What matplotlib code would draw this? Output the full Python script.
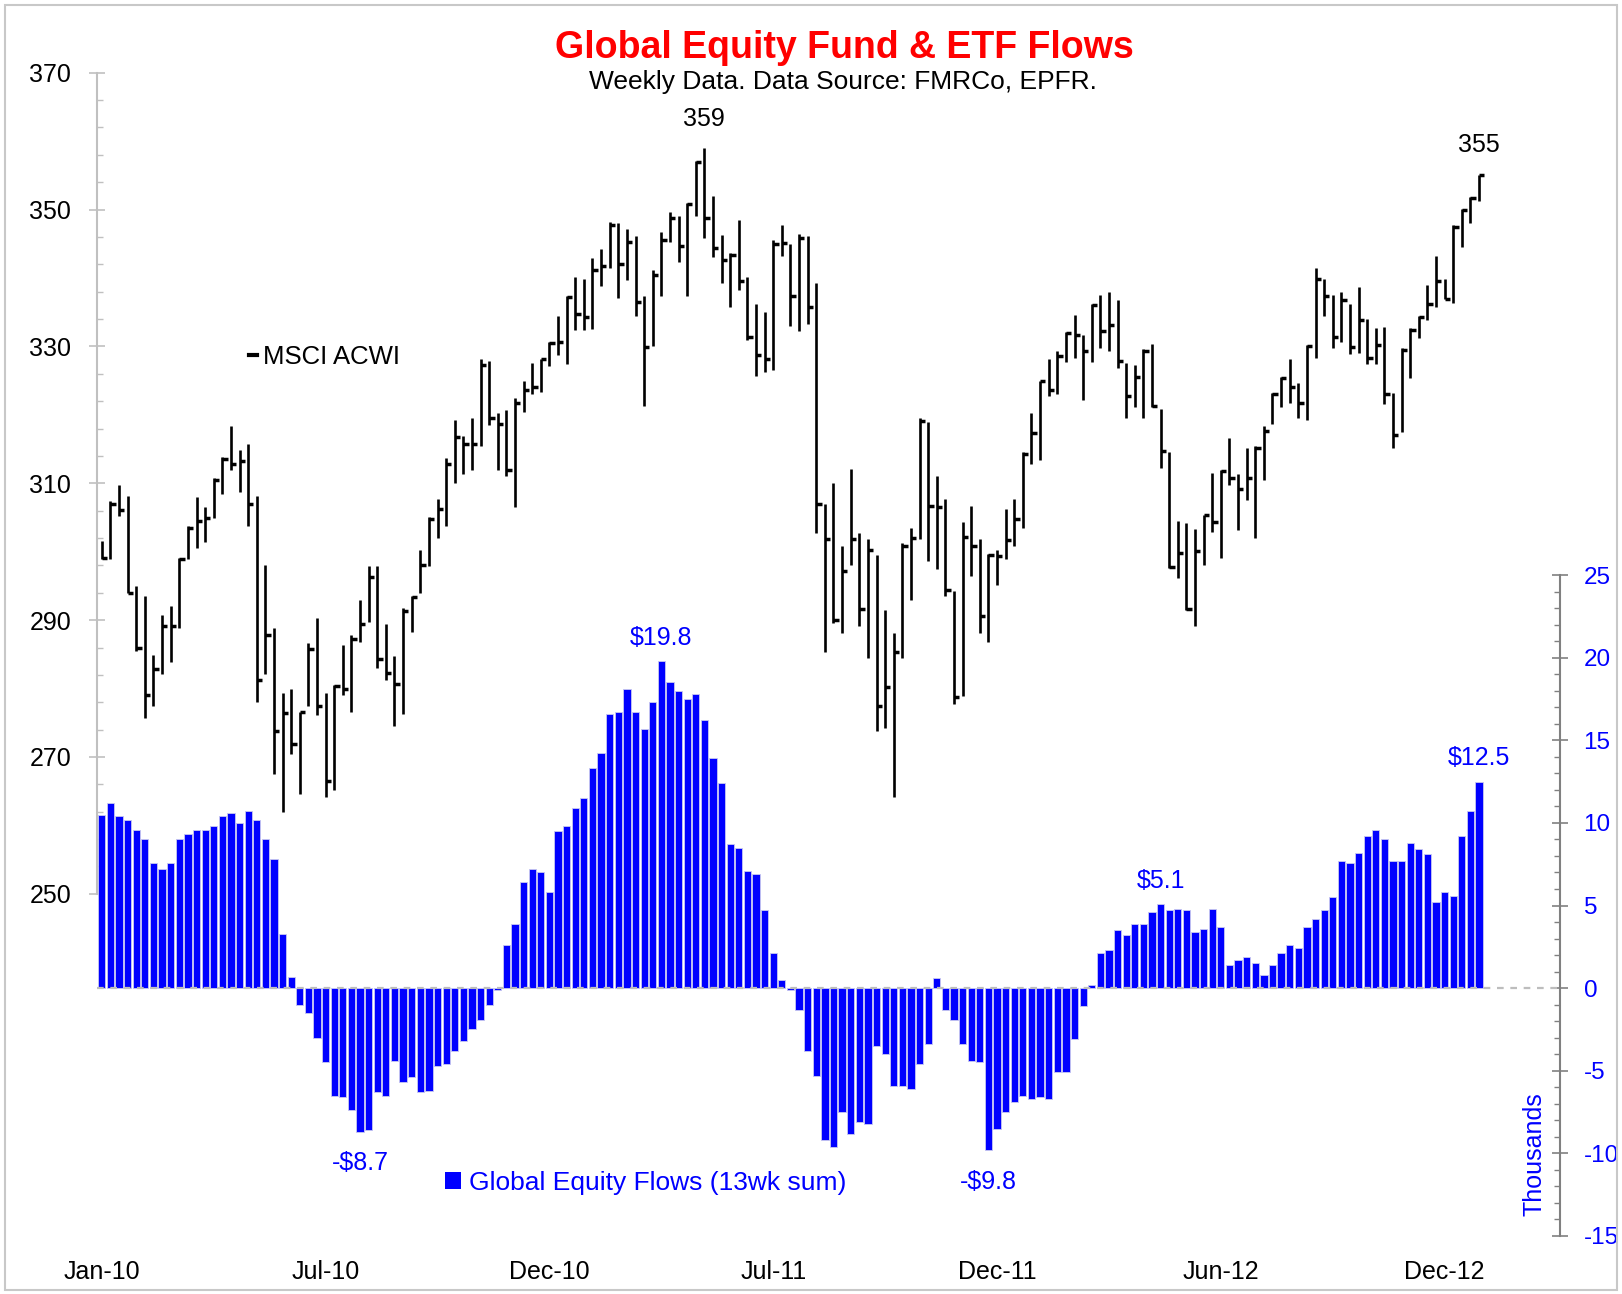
import numpy as np
import pandas as pd
import matplotlib
matplotlib.use("Agg")
import matplotlib.pyplot as plt
from matplotlib.lines import Line2D
from matplotlib.patches import Patch, Rectangle
from matplotlib.ticker import FixedLocator

plt.rcParams['font.family'] = ['Liberation Sans', 'DejaVu Sans']
plt.rcParams['axes.unicode_minus'] = False

# weekly data, Fridays from 1 Jan 2010
weeks = pd.date_range("2010-01-01", periods=161, freq="7D")

# MSCI ACWI weekly high / low / close
highs = [301.5, 307.4, 309.8, 308.1, 295.0, 293.6, 284.9, 290.7, 292.1, 299.1, 303.8, 308.0, 306.5, 310.7, 313.9, 318.4, 314.9, 315.8, 308.2, 298.0, 288.9, 279.4, 280.0, 276.6, 286.6, 290.3, 279.4, 280.5, 286.3, 287.9, 292.9, 297.9, 297.9,
         289.4, 284.8, 291.8, 293.5, 300.2, 305.0, 307.7, 313.7, 319.2, 316.9, 319.6, 328.1, 327.9, 320.3, 320.7, 322.4, 324.9, 327.6, 328.2, 330.6, 334.4, 337.4, 340.2, 339.8, 342.9, 344.3, 348.2, 348.1, 347.2, 346.1, 337.3, 341.1, 346.7,
         349.7, 349.0, 350.9, 357.1, 359.0, 352.0, 346.3, 343.7, 348.5, 340.1, 336.2, 335.1, 345.5, 347.8, 344.9, 346.4, 346.1, 339.2, 306.9, 310.0, 300.8, 312.1, 302.8, 301.8, 299.5, 291.5, 288.1, 301.2, 303.4, 319.5, 318.9, 311.0, 307.7, 294.2,
         304.3, 306.7, 301.9, 299.6, 300.2, 306.2, 307.7, 314.5, 320.3, 325.0, 328.2, 329.4, 332.1, 334.6, 331.6, 336.2, 337.5, 338.0, 336.8, 327.6, 327.3, 329.6, 330.4, 320.8, 314.5, 304.5, 304.2, 303.3, 305.4, 311.5, 312.0, 316.6, 311.3, 315.2,
         315.4, 318.3, 323.2, 325.6, 328.1, 324.6, 330.2, 341.4, 339.8, 337.5, 338.0, 336.2, 338.7, 334.0, 332.7, 332.8, 323.2, 329.7, 332.7, 334.4, 339.0, 343.2, 339.8, 347.8, 350.1, 351.9, 355.1]
lows = [298.9, 298.9, 305.2, 294.0, 285.5, 275.7, 277.5, 282.2, 283.9, 288.9, 298.9, 300.6, 301.4, 304.9, 308.4, 312.0, 308.7, 303.7, 278.0, 282.1, 267.5, 262.0, 270.5, 264.6, 277.5, 276.1, 264.1, 265.2, 279.0, 276.6, 286.8, 289.7, 283.0,
        281.3, 274.6, 276.3, 288.3, 293.9, 297.9, 302.0, 303.8, 310.0, 311.4, 311.9, 315.4, 318.5, 311.9, 311.1, 306.6, 320.4, 323.1, 323.4, 327.1, 328.8, 327.4, 332.4, 332.4, 332.5, 338.8, 341.5, 337.1, 339.7, 334.4, 321.3, 330.1, 337.3,
        345.3, 342.3, 337.4, 349.1, 345.9, 343.0, 339.2, 335.7, 338.2, 330.9, 325.7, 326.3, 326.5, 343.2, 333.0, 332.2, 333.3, 302.8, 285.4, 289.6, 288.1, 298.0, 289.2, 284.5, 273.8, 274.3, 264.2, 284.5, 293.0, 301.8, 298.7, 297.4, 293.6, 277.8,
        278.9, 296.5, 288.1, 286.8, 295.1, 298.9, 300.9, 303.5, 312.8, 313.4, 322.8, 323.0, 327.7, 328.3, 322.1, 327.7, 329.8, 329.4, 326.8, 319.5, 321.2, 319.5, 321.2, 312.2, 297.6, 296.2, 291.5, 289.1, 298.1, 302.9, 299.1, 309.7, 303.2, 307.6,
        302.0, 310.5, 318.6, 321.2, 321.8, 319.5, 319.2, 328.3, 334.4, 329.8, 330.7, 328.9, 329.1, 327.4, 327.4, 321.6, 315.2, 317.5, 325.4, 331.2, 333.8, 335.8, 336.9, 336.4, 344.6, 348.1, 351.3]
closes = [299.1, 306.9, 306.1, 294.0, 286.0, 279.1, 282.8, 289.2, 289.1, 298.9, 303.5, 304.5, 304.9, 310.5, 313.6, 312.8, 313.2, 307.0, 281.2, 287.9, 273.8, 276.5, 271.9, 276.6, 285.8, 277.5, 266.5, 280.4, 279.9, 287.3, 289.4, 296.3, 284.3,
          282.3, 280.6, 291.4, 293.4, 298.1, 304.8, 306.3, 312.8, 316.7, 315.8, 315.7, 327.3, 319.5, 318.7, 312.0, 321.8, 323.6, 324.1, 328.1, 330.5, 330.6, 337.2, 334.8, 334.3, 341.1, 341.7, 347.8, 342.1, 345.2, 336.5, 329.9, 340.4, 345.5,
          348.7, 344.7, 350.8, 356.9, 348.7, 344.4, 342.6, 343.3, 339.5, 331.4, 328.7, 328.1, 344.9, 345.1, 337.3, 345.8, 335.7, 306.9, 301.8, 290.0, 297.2, 301.8, 291.7, 300.2, 277.5, 280.3, 285.4, 300.9, 302.0, 319.1, 306.7, 306.6, 294.4, 278.7,
          302.2, 300.9, 290.6, 299.5, 299.3, 301.7, 304.8, 314.3, 317.4, 324.9, 323.7, 328.6, 332.0, 331.7, 329.4, 336.1, 332.3, 333.2, 327.8, 322.8, 325.5, 329.3, 321.3, 314.7, 297.7, 299.8, 291.6, 300.1, 305.3, 304.3, 311.8, 310.8, 309.1, 310.8,
          315.2, 317.7, 323.1, 325.4, 324.1, 321.8, 330.0, 339.8, 337.4, 331.4, 336.8, 329.9, 333.9, 328.3, 330.2, 323.1, 317.1, 329.5, 332.4, 334.3, 336.2, 339.6, 336.9, 347.5, 350.0, 351.7, 355.0]

# global equity flows, 13 week sum ($bn)
flows = [10.5, 11.2, 10.4, 10.2, 9.6, 9.0, 7.6, 7.2, 7.6, 9.0, 9.3, 9.6, 9.6, 9.8, 10.4, 10.6, 10.0, 10.7, 10.2, 9.0, 7.8, 3.3, 0.7,
         -1.0, -1.5, -3.0, -4.5, -6.5, -6.6, -7.4, -8.7, -8.6, -6.3, -6.5, -4.4, -5.7, -5.4, -6.3, -6.2, -4.7, -4.6, -3.8, -3.2, -2.5, -1.9, -1.0, -0.1,
         2.6, 3.9, 6.4, 7.2, 7.0, 5.8, 9.5, 9.8, 10.9, 11.5, 13.3, 14.2, 16.6, 16.7, 18.1, 16.7, 15.7, 17.3, 19.8, 18.5, 18.0, 17.5, 17.8, 16.2, 13.9, 12.4, 8.7, 8.5, 7.1, 6.9, 4.7, 2.1, 0.5,
         -0.1, -1.3, -3.8, -5.3, -9.2, -9.6, -7.5, -8.8, -8.1, -8.2, -3.5, -4.0, -5.9, -5.9, -6.1,
         -4.6, -3.4, 0.6, -1.3, -1.9, -3.4, -4.4, -4.5, -9.8, -8.5, -7.5, -6.9, -6.5, -6.7, -6.6, -6.7, -5.1, -5.1, -3.1, -1.1, 0.2,
         2.1, 2.3, 3.5, 3.2, 3.9, 3.9, 4.6, 5.1, 4.7, 4.8, 4.7, 3.4, 3.6, 4.8, 3.7, 1.4, 1.7, 1.9, 1.5,
         0.8, 1.4, 2.1, 2.6, 2.4, 3.7, 4.2, 4.7, 5.5, 7.7, 7.6, 8.2, 9.2, 9.6, 9.0, 7.7, 7.7, 8.8, 8.4, 8.1, 5.2, 5.8, 5.6, 9.2, 10.7, 12.5]

# weeks that carry a value label
price_notes = [70, 160]
flow_notes = [30, 65, 103, 123, 160]

x = np.arange(len(weeks))
W, H = 1622, 1294

fig = plt.figure(figsize=(W / 100, H / 100), dpi=100)
ax = fig.add_axes([97 / W, 1 - 1236 / H, (1560 - 97) / W, (1236 - 72.7) / H])
ax2 = ax.twinx()

# price bars: high-low line with a close tick on the right
ax.vlines(x, lows, highs, colors='black', lw=1.9)
ax.hlines(closes, x, x + 0.62, colors='black', lw=2.5)

ax2.bar(x, flows, width=0.84, color='#0000ff', edgecolor='#c8c8f0', linewidth=0.6, zorder=2)
ax2.axhline(0, color='#bdbdbd', lw=1.6, ls=(0, (3, 3)), zorder=3)

ax.set_xlim(-0.56, 169.4)
ax.set_ylim(200, 370)
ax2.set_ylim(-15, 55.4)

for s in ['top', 'bottom', 'right']:
    ax.spines[s].set_visible(False)
for s in ['top', 'bottom', 'left']:
    ax2.spines[s].set_visible(False)
ax.spines['left'].set_bounds(250, 370)
ax.spines['left'].set_color('#c0c0c0')
ax.spines['left'].set_linewidth(1.5)
ax2.spines['right'].set_bounds(-15, 25)
ax2.spines['right'].set_color('#808080')
ax2.spines['right'].set_linewidth(1.5)

ax.yaxis.set_major_locator(FixedLocator(np.arange(250, 371, 20)))
ax.yaxis.set_minor_locator(FixedLocator(np.arange(250, 371, 4)))
ax.tick_params(axis='y', which='major', direction='inout', length=11, width=1.2,
               color='#c0c0c0', labelsize=18, pad=13)
ax.tick_params(axis='y', which='minor', direction='in', length=4, width=1, color='#c0c0c0')

ax2.yaxis.set_major_locator(FixedLocator(np.arange(-15, 26, 5)))
ax2.yaxis.set_minor_locator(FixedLocator(np.arange(-15, 26, 1)))
ax2.tick_params(axis='y', which='major', direction='inout', length=12, width=1.2,
                color='#808080', labelcolor='blue', labelsize=17.5, pad=11)
ax2.tick_params(axis='y', which='minor', direction='in', length=4.5, width=1, color='#808080')

ax.set_xticks(x[::26])
ax.set_xticklabels(weeks[::26].strftime('%b-%y'))
ax.tick_params(axis='x', length=0, labelsize=18, pad=17)

for i in price_notes:
    ax.annotate(f"{highs[i]:.0f}", (x[i], highs[i]), xytext=(0, 12.5), textcoords='offset points',
                ha='center', va='bottom', fontsize=18)
for i in flow_notes:
    v = flows[i]
    txt = ("-$" if v < 0 else "$") + f"{abs(v):.1f}"
    if v >= 0:
        ax2.annotate(txt, (x[i], v), xytext=(0, 8), textcoords='offset points',
                     ha='center', va='bottom', fontsize=18, color='blue')
    else:
        ax2.annotate(txt, (x[i], v), xytext=(0, -14), textcoords='offset points',
                     ha='center', va='top', fontsize=18, color='blue')

fig.text(844 / W, 1 - 48.5 / H, "Global Equity Fund & ETF Flows", ha='center', va='center',
         color='#ff0000', fontsize=27, fontweight='bold')
fig.text(843 / W, 1 - 82 / H, "Weekly Data. Data Source: FMRCo, EPFR.", ha='center', va='center',
         fontsize=19)
fig.text(1534 / W, 1 - 1154 / H, "Thousands", rotation=90, ha='center', va='center',
         color='blue', fontsize=18)

leg1 = fig.legend(handles=[Line2D([], [], color='black', lw=3)], labels=['MSCI ACWI'],
                  loc='center left', bbox_to_anchor=(249 / W, 1 - 357 / H), frameon=False,
                  borderpad=0, borderaxespad=0, handlelength=0.3, handletextpad=0.25, fontsize=18.5)
leg2 = fig.legend(handles=[Patch(facecolor='#0000ff', edgecolor='none')],
                  labels=['Global Equity Flows (13wk sum)'],
                  loc='center left', bbox_to_anchor=(445 / W, 1 - 1183 / H), frameon=False,
                  borderpad=0, borderaxespad=0, handlelength=0.6, handleheight=0.6,
                  handletextpad=0.3, fontsize=19, labelcolor='blue')

fig.patches.append(Rectangle((5 / W, 4 / H), (W - 10) / W, (H - 9) / H, transform=fig.transFigure,
                             fill=False, edgecolor='#c8c8c8', lw=1.5))

fig.savefig('out.png', dpi=100)
